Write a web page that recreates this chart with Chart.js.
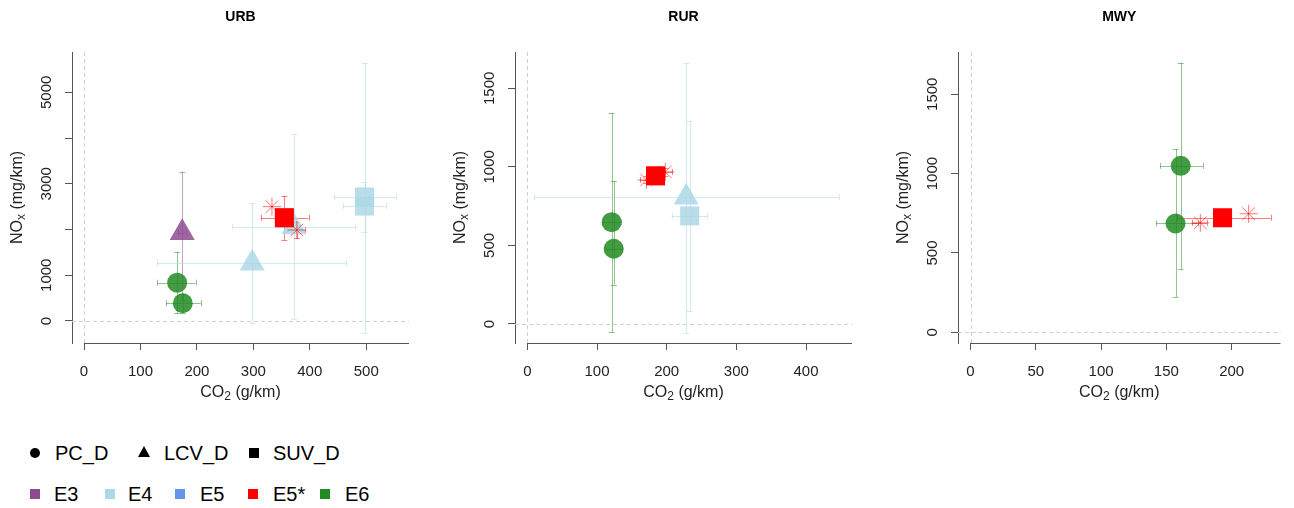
<!DOCTYPE html>
<html>
<head>
<meta charset="utf-8">
<script src="https://cdn.jsdelivr.net/npm/chart.js@4.4.0/dist/chart.umd.min.js"></script>
<style>
body { margin: 0; background: #fff; width: 1294px; height: 508px; overflow: hidden; position: relative; font-family: "Liberation Sans", Arial, sans-serif; }
.panel { position: absolute; top: 0; height: 420px; }
.txt { position: absolute; font-size: 20px; line-height: 20px; color: #000; white-space: nowrap; }
.mk { position: absolute; }
</style>
</head>
<body>
<div class="panel" style="left:0;width:431px"><canvas id="urb" width="431" height="420"></canvas></div>
<div class="panel" style="left:443px;width:431px"><canvas id="rur" width="431" height="420"></canvas></div>
<div class="panel" style="left:886px;width:408px"><canvas id="mwy" width="408" height="420"></canvas></div>

<!-- legend -->
<div class="mk" style="left:30px;top:448px;width:10px;height:10px;border-radius:50%;background:#000"></div>
<div class="txt" style="left:55px;top:443px">PC_D</div>
<div class="mk" style="left:138px;top:446px;width:0;height:0;border-left:6px solid transparent;border-right:6px solid transparent;border-bottom:11px solid #000"></div>
<div class="txt" style="left:164px;top:443px">LCV_D</div>
<div class="mk" style="left:249px;top:448px;width:10px;height:10px;background:#000"></div>
<div class="txt" style="left:273px;top:443px">SUV_D</div>
<div id="leg2"></div>

<script>
// categories
const groups = ['E3', 'E4', 'E5', 'E5*', 'E6'];
const groupColors = ['142,75,145', '173,216,230', '100,149,237', '255,0,0', '34,139,34'];
const types = ['PC_D', 'LCV_D', 'SUV_D', 'veh'];
const typeShapes = ['circle', 'triangle', 'rect', 'star'];
const typeSizes = [10, 14.5, 13.5, 9];

// rows: group, type, CO2, CO2 low, CO2 high, NOx, NOx low, NOx high
const urbRows = [
  ['E3', 'LCV_D', 174, 166, 181, 1930, 450, 3264],
  ['E6', 'PC_D', 165, 130, 198, 838, 168, 1502],
  ['E6', 'PC_D', 175, 145, 207, 387, 182, 600],
  ['E4', 'LCV_D', 298, 130, 465, 1265, -51, 2573],
  ['E4', 'LCV_D', 372, 263, 481, 2055, 37, 4081],
  ['E4', 'SUV_D', 497, 443, 553, 2711, -270, 5648],
  ['E4', 'SUV_D', 497, 458, 535, 2514, 1953, 3030],
  ['E5*', 'SUV_D', 355, 314, 398, 2258, 1764, 2733],
  ['E5*', 'veh', 333, 333, 333, 2500, 2500, 2500],
  ['E5*', 'veh', 377, 359, 392, 1990, 1808, 2171]
];
const rurRows = [
  ['E6', 'PC_D', 121, 109, 134, 648, -51, 1341],
  ['E6', 'PC_D', 124, 112, 136, 479, 250, 907],
  ['E4', 'LCV_D', 228, 10, 448, 807, -57, 1663],
  ['E4', 'SUV_D', 233, 207, 258, 688, 80, 1290],
  ['E5*', 'SUV_D', 184, 176, 193, 943, 900, 985],
  ['E5*', 'veh', 171, 162, 180, 917, 895, 940],
  ['E5*', 'veh', 198, 188, 208, 968, 945, 992]
];
const mwyRows = [
  ['E6', 'PC_D', 161, 145, 178, 1049, 399, 1699],
  ['E6', 'PC_D', 157, 142, 174, 686, 223, 1156],
  ['E5*', 'SUV_D', 193, 158, 230, 722, 705, 740],
  ['E5*', 'veh', 176, 170, 181, 690, 690, 690],
  ['E5*', 'veh', 213, 213, 213, 747, 747, 747]
];

// axes: ticks and labels
const urbXTicks = [0, 100, 200, 300, 400, 500];
const urbYTicks = [0, 1000, 2000, 3000, 4000, 5000];
const urbYLabels = ['0', '1000', '', '3000', '', '5000'];
const rurXTicks = [0, 100, 200, 300, 400];
const rurYTicks = [0, 500, 1000, 1500];
const mwyXTicks = [0, 50, 100, 150, 200];
const mwyYTicks = [0, 500, 1000, 1500];

const FONT = "'Liberation Sans', Arial, sans-serif";
Chart.defaults.font.family = FONT;

function hline(ctx, x1, x2, y) {
  y = Math.round(y) + 0.5;
  ctx.beginPath(); ctx.moveTo(x1, y); ctx.lineTo(x2, y); ctx.stroke();
}
function vline(ctx, x, y1, y2) {
  x = Math.round(x) + 0.5;
  ctx.beginPath(); ctx.moveTo(x, y1); ctx.lineTo(x, y2); ctx.stroke();
}

const extras = {
  id: 'extras',
  beforeDatasetsDraw(chart) {
    const {ctx, chartArea: a, scales: {x, y}} = chart;
    ctx.save();
    ctx.lineWidth = 1;
    // dashed zero lines
    ctx.strokeStyle = '#d0d0d0';
    ctx.setLineDash([4, 3]);
    hline(ctx, a.left, a.right, y.getPixelForValue(0));
    vline(ctx, x.getPixelForValue(0), a.top, a.bottom);
    ctx.setLineDash([]);
    // x axis line from 0 to the right edge
    ctx.strokeStyle = '#555';
    hline(ctx, x.getPixelForValue(0), a.right, a.bottom);
    // error bars
    chart.data.datasets.forEach(ds => {
      const e = ds.err;
      ctx.strokeStyle = ds.errColor;
      const px = x.getPixelForValue(ds.data[0].x), py = y.getPixelForValue(ds.data[0].y);
      const xl = x.getPixelForValue(e[0]), xh = x.getPixelForValue(e[1]);
      const yl = y.getPixelForValue(e[2]), yh = y.getPixelForValue(e[3]);
      const c = 3;
      if (xh - xl > 1) {
        hline(ctx, xl, xh, py);
        vline(ctx, xl, py - c, py + c);
        vline(ctx, xh, py - c, py + c);
      }
      if (yl - yh > 1) {
        vline(ctx, px, yh, yl);
        hline(ctx, px - c, px + c, yh);
        hline(ctx, px - c, px + c, yl);
      }
    });
    ctx.restore();
  },
  afterDraw(chart) {
    const {ctx, chartArea: a} = chart;
    const o = chart.options.plugins.extras;
    ctx.save();
    ctx.fillStyle = '#000';
    ctx.textBaseline = 'middle';
    ctx.textAlign = 'center';
    ctx.font = 'bold 14px ' + FONT;
    ctx.fillText(o.title, (a.left + a.right) / 2, 17);
    // axis titles with subscripts
    const drawSub = (parts, cx, cy) => {
      const big = '16px ' + FONT, small = '12px ' + FONT;
      let w = 0;
      parts.forEach(p => { ctx.font = p[1] ? small : big; w += ctx.measureText(p[0]).width; });
      let xx = cx - w / 2;
      ctx.textAlign = 'left';
      parts.forEach(p => {
        ctx.font = p[1] ? small : big;
        ctx.fillText(p[0], xx, cy + (p[1] ? 4 : 0));
        xx += ctx.measureText(p[0]).width;
      });
    };
    ctx.fillStyle = '#222';
    drawSub([['CO', 0], ['2', 1], [' (g/km)', 0]], (a.left + a.right) / 2, 393);
    ctx.translate(a.left - 54, (a.top + a.bottom) / 2);
    ctx.rotate(-Math.PI / 2);
    drawSub([['NO', 0], ['x', 1], [' (mg/km)', 0]], 0, 0);
    ctx.restore();
  }
};

function makeChart(id, title, rows, xMin, xMax, yMin, yMax, xTicks, yTicks, yLabels, rightPad) {
  const datasets = rows.map((r, i) => {
    const g = groupColors[groups.indexOf(r[0])];
    const t = types.indexOf(r[1]);
    const isStar = typeShapes[t] === 'star';
    return {
      data: [{x: r[2], y: r[5]}],
      err: [r[3], r[4], r[6], r[7]],
      errColor: 'rgba(' + g + ',' + (r[0] === 'E4' ? 0.55 : 0.5) + ')',
      pointStyle: typeShapes[t],
      pointRadius: typeSizes[t],
      backgroundColor: isStar ? 'rgba(0,0,0,0)' : 'rgba(' + g + ',' + (r[0] === 'E5*' ? 1 : 0.85) + ')',
      borderColor: isStar ? 'rgba(' + g + ',0.55)' : 'rgba(0,0,0,0)',
      borderWidth: isStar ? 1 : 0,
      order: -i
    };
  });
  return new Chart(document.getElementById(id), {
    type: 'scatter',
    data: {datasets},
    options: {
      responsive: false,
      animation: false,
      layout: {padding: {top: 52, right: rightPad, left: 0, bottom: 0}},
      plugins: {legend: {display: false}, tooltip: {enabled: false}, extras: {title}},
      scales: {
        x: {
          type: 'linear', min: xMin, max: xMax,
          afterBuildTicks: s => { s.ticks = xTicks.map(v => ({value: v})); },
          afterFit: s => { s.height = 77; s.paddingLeft = 0; s.paddingRight = 0; },
          border: {display: false},
          grid: {drawOnChartArea: false, drawTicks: true, tickLength: 7, color: '#555'},
          ticks: {font: {size: 15}, color: '#222', padding: 13, maxRotation: 0, autoSkip: false}
        },
        y: {
          type: 'linear', min: yMin, max: yMax,
          afterBuildTicks: s => { s.ticks = yTicks.map(v => ({value: v})); },
          afterFit: s => { s.width = 72; s.paddingTop = 0; s.paddingBottom = 0; },
          border: {display: true, color: '#555', width: 1},
          grid: {drawOnChartArea: false, drawTicks: true, tickLength: 7, color: '#555'},
          ticks: {
            font: {size: 15}, color: '#222', padding: 1, minRotation: 90, maxRotation: 90,
            crossAlign: 'center', autoSkip: false,
            callback: (v, i) => yLabels ? yLabels[i] : String(v)
          }
        }
      }
    },
    plugins: [extras]
  });
}

makeChart('urb', 'URB', urbRows, -21.3, 575.8, -481, 5881, urbXTicks, urbYTicks, urbYLabels, 22);
makeChart('rur', 'RUR', rurRows, -17.7, 466, -121, 1731, rurXTicks, rurYTicks, null, 22);
makeChart('mwy', 'MWY', mwyRows, -9.6, 237.4, -67, 1766, mwyXTicks, mwyYTicks, null, 1);

// legend row 2: colour swatches
const leg2 = document.getElementById('leg2');
const swatchX = [35, 110, 180, 253, 325];
const labelX = [54, 128, 200, 273, 345];
groups.forEach((g, i) => {
  const sw = document.createElement('div');
  sw.className = 'mk';
  sw.style.cssText = 'left:' + (swatchX[i] - 5) + 'px;top:489px;width:10px;height:10px;background:rgb(' + groupColors[i] + ')';
  leg2.appendChild(sw);
  const t = document.createElement('div');
  t.className = 'txt';
  t.style.cssText = 'left:' + labelX[i] + 'px;top:484px';
  t.textContent = g;
  leg2.appendChild(t);
});
</script>
</body>
</html>
